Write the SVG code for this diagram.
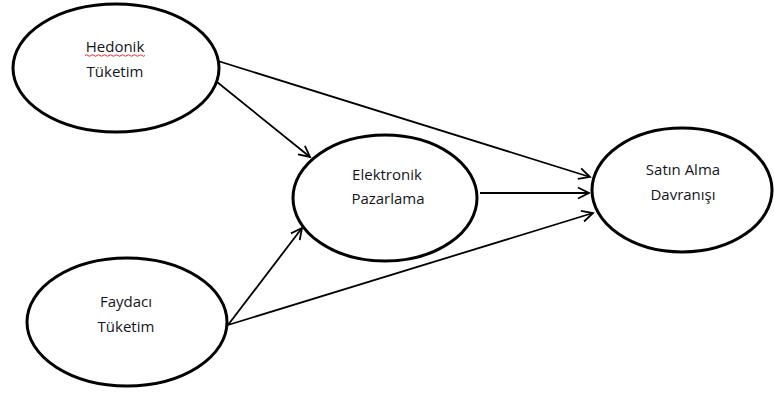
<svg xmlns="http://www.w3.org/2000/svg" width="774" height="396" viewBox="0 0 774 396">
<style>
.node ellipse{fill:#fff;stroke:#000;stroke-width:3}
.node text{font-family:"Open Sans","Liberation Sans",sans-serif;font-size:15px;fill:#151520;text-anchor:middle}
.conn line{stroke:#000;stroke-width:1.8;fill:none}
</style>
<defs>
<marker id="arr" markerUnits="userSpaceOnUse" markerWidth="14" markerHeight="14" viewBox="0 0 14 14" refX="12" refY="7" orient="auto">
<path d="M1,1.5 L12,7 L1,12.5" fill="none" stroke="#000" stroke-width="1.8"/>
</marker>
</defs>
<rect width="774" height="396" fill="#fff"/>
<g id="connectors" class="conn">
<line x1="218" y1="61" x2="590" y2="177" marker-end="url(#arr)"/>
<line x1="217" y1="82" x2="310" y2="157" marker-end="url(#arr)"/>
<line x1="480" y1="193" x2="589" y2="193" marker-end="url(#arr)"/>
<line x1="228" y1="325" x2="302" y2="228" marker-end="url(#arr)"/>
<line x1="228" y1="325" x2="593" y2="213" marker-end="url(#arr)"/>
</g>
<g id="hedonik" class="node">
<ellipse cx="116" cy="68" rx="103" ry="64"/>
<text x="115" y="52">Hedonik</text>
<path d="M85,55.5 q1.5,-1.5 3,0 t3,0 t3,0 t3,0 t3,0 t3,0 t3,0 t3,0 t3,0 t3,0 t3,0 t3,0 t3,0 t3,0 t3,0 t3,0 t3,0 t3,0 t3,0 t3,0" fill="none" stroke="#e03030" stroke-width="1"/>
<text x="115" y="77">Tüketim</text>
</g>
<g id="faydaci" class="node">
<ellipse cx="127" cy="322" rx="100" ry="64"/>
<text x="126" y="307">Faydacı</text>
<text x="126" y="332">Tüketim</text>
</g>
<g id="elektronik" class="node">
<ellipse cx="385" cy="198" rx="92" ry="63"/>
<text x="387" y="180">Elektronik</text>
<text x="388" y="204">Pazarlama</text>
</g>
<g id="satin" class="node">
<ellipse cx="682" cy="190" rx="90" ry="62"/>
<text x="683" y="175">Satın Alma</text>
<text x="683" y="200">Davranışı</text>
</g>
</svg>
